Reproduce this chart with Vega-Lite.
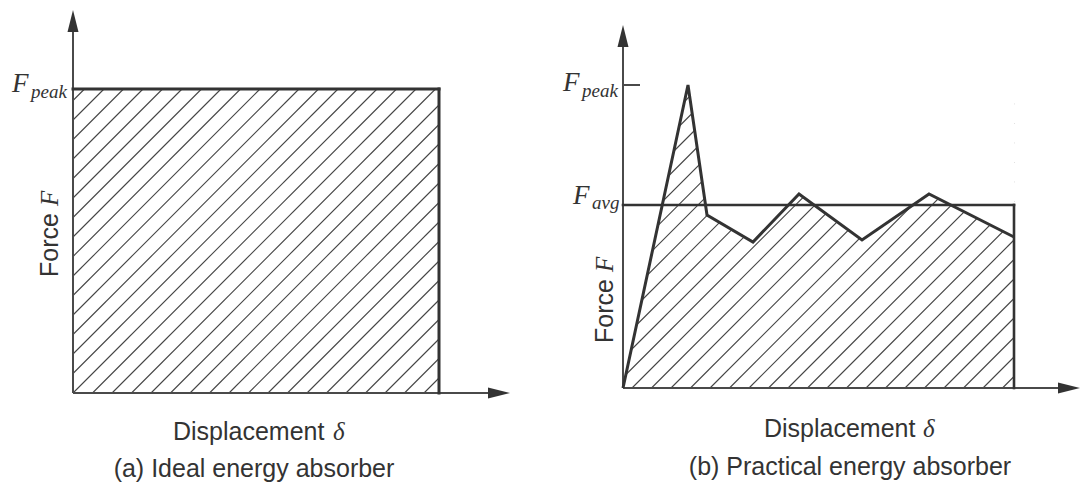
{
  "$schema": "https://vega.github.io/schema/vega-lite/v6.json",
  "background": "white",
  "padding": 0,
  "spacing": 0,
  "config": {"view": {"stroke": null}, "concat": {"spacing": 0}},
  "datasets": {
    "a_hatch": [
      {"x": 0, "y": 292.5, "x2": 11.5, "y2": 304},
      {"x": 0, "y": 273, "x2": 31, "y2": 304},
      {"x": 0, "y": 253.5, "x2": 50.5, "y2": 304},
      {"x": 0, "y": 234, "x2": 70, "y2": 304},
      {"x": 0, "y": 214.5, "x2": 89.5, "y2": 304},
      {"x": 0, "y": 195, "x2": 109, "y2": 304},
      {"x": 0, "y": 175.5, "x2": 128.5, "y2": 304},
      {"x": 0, "y": 156, "x2": 148, "y2": 304},
      {"x": 0, "y": 136.5, "x2": 167.5, "y2": 304},
      {"x": 0, "y": 117, "x2": 187, "y2": 304},
      {"x": 0, "y": 97.5, "x2": 206.5, "y2": 304},
      {"x": 0, "y": 78, "x2": 226, "y2": 304},
      {"x": 0, "y": 58.5, "x2": 245.5, "y2": 304},
      {"x": 0, "y": 39, "x2": 265, "y2": 304},
      {"x": 0, "y": 19.5, "x2": 284.5, "y2": 304},
      {"x": 0, "y": 0, "x2": 304, "y2": 304},
      {"x": 19.5, "y": 0, "x2": 323.5, "y2": 304},
      {"x": 39, "y": 0, "x2": 343, "y2": 304},
      {"x": 58.5, "y": 0, "x2": 362.5, "y2": 304},
      {"x": 78, "y": 0, "x2": 366, "y2": 288},
      {"x": 97.5, "y": 0, "x2": 366, "y2": 268.5},
      {"x": 117, "y": 0, "x2": 366, "y2": 249},
      {"x": 136.5, "y": 0, "x2": 366, "y2": 229.5},
      {"x": 156, "y": 0, "x2": 366, "y2": 210},
      {"x": 175.5, "y": 0, "x2": 366, "y2": 190.5},
      {"x": 195, "y": 0, "x2": 366, "y2": 171},
      {"x": 214.5, "y": 0, "x2": 366, "y2": 151.5},
      {"x": 234, "y": 0, "x2": 366, "y2": 132},
      {"x": 253.5, "y": 0, "x2": 366, "y2": 112.5},
      {"x": 273, "y": 0, "x2": 366, "y2": 93},
      {"x": 292.5, "y": 0, "x2": 366, "y2": 73.5},
      {"x": 312, "y": 0, "x2": 366, "y2": 54},
      {"x": 331.5, "y": 0, "x2": 366, "y2": 34.5},
      {"x": 351, "y": 0, "x2": 366, "y2": 15}
    ],
    "a_axes": [
      {"x": 0, "y": 0, "x2": 0, "y2": 372},
      {"x": 0, "y": 0, "x2": 426, "y2": 0}
    ],
    "a_box": [
      {"x": 0, "y": 304, "x2": 366, "y2": 304},
      {"x": 366, "y": 304, "x2": 366, "y2": 0}
    ],
    "a_arrows": [
      {"x": 0, "y": 372, "dir": "up"},
      {"x": 426, "y": 0, "dir": "right"}
    ],
    "b_hatch": [
      {"x": 0, "y": 283.5, "x2": 19.5, "y2": 303},
      {"x": 0, "y": 264, "x2": 39, "y2": 303},
      {"x": 0, "y": 244.5, "x2": 58.5, "y2": 303},
      {"x": 0, "y": 225, "x2": 78, "y2": 303},
      {"x": 0, "y": 205.5, "x2": 97.5, "y2": 303},
      {"x": 0, "y": 186, "x2": 117, "y2": 303},
      {"x": 0, "y": 166.5, "x2": 136.5, "y2": 303},
      {"x": 0, "y": 147, "x2": 156, "y2": 303},
      {"x": 0, "y": 127.5, "x2": 175.5, "y2": 303},
      {"x": 0, "y": 108, "x2": 195, "y2": 303},
      {"x": 0, "y": 88.5, "x2": 214.5, "y2": 303},
      {"x": 0, "y": 69, "x2": 234, "y2": 303},
      {"x": 0, "y": 49.5, "x2": 253.5, "y2": 303},
      {"x": 0, "y": 30, "x2": 273, "y2": 303},
      {"x": 0, "y": 10.5, "x2": 292.5, "y2": 303},
      {"x": 9, "y": 0, "x2": 312, "y2": 303},
      {"x": 28.5, "y": 0, "x2": 331.5, "y2": 303},
      {"x": 48, "y": 0, "x2": 351, "y2": 303},
      {"x": 67.5, "y": 0, "x2": 370.5, "y2": 303},
      {"x": 87, "y": 0, "x2": 390, "y2": 303},
      {"x": 106.5, "y": 0, "x2": 391, "y2": 284.5},
      {"x": 126, "y": 0, "x2": 391, "y2": 265},
      {"x": 145.5, "y": 0, "x2": 391, "y2": 245.5},
      {"x": 165, "y": 0, "x2": 391, "y2": 226},
      {"x": 184.5, "y": 0, "x2": 391, "y2": 206.5},
      {"x": 204, "y": 0, "x2": 391, "y2": 187},
      {"x": 223.5, "y": 0, "x2": 391, "y2": 167.5},
      {"x": 243, "y": 0, "x2": 391, "y2": 148},
      {"x": 262.5, "y": 0, "x2": 391, "y2": 128.5},
      {"x": 282, "y": 0, "x2": 391, "y2": 109},
      {"x": 301.5, "y": 0, "x2": 391, "y2": 89.5},
      {"x": 321, "y": 0, "x2": 391, "y2": 70},
      {"x": 340.5, "y": 0, "x2": 391, "y2": 50.5},
      {"x": 360, "y": 0, "x2": 391, "y2": 31},
      {"x": 379.5, "y": 0, "x2": 391, "y2": 11.5}
    ],
    "b_curve": [
      {"x": 0, "y": 0},
      {"x": 65, "y": 303},
      {"x": 84, "y": 173},
      {"x": 130, "y": 146},
      {"x": 176, "y": 194},
      {"x": 239, "y": 148},
      {"x": 306, "y": 194},
      {"x": 391, "y": 151}
    ],
    "b_axes": [
      {"x": 0, "y": 0, "x2": 0, "y2": 352},
      {"x": 0, "y": 0, "x2": 446, "y2": 0},
      {"x": 0, "y": 303, "x2": 17, "y2": 303}
    ],
    "b_box": [
      {"x": 0, "y": 183, "x2": 391, "y2": 183},
      {"x": 391, "y": 183, "x2": 391, "y2": 0}
    ],
    "b_arrows": [
      {"x": 0, "y": 352, "dir": "up"},
      {"x": 446, "y": 0, "dir": "right"}
    ]
  },
  "hconcat": [
    {
      "width": 540,
      "height": 484,
      "encoding": {
        "x": {"field": "x", "type": "quantitative", "scale": {"domain": [-73, 467], "nice": false, "zero": false}, "axis": null},
        "y": {"field": "y", "type": "quantitative", "scale": {"domain": [-91, 393], "nice": false, "zero": false}, "axis": null}
      },
      "layer": [
        {"data": {"name": "a_hatch"}, "mark": {"type": "rule", "stroke": "#444444", "strokeWidth": 1.1}, "encoding": {"x2": {"field": "x2"}, "y2": {"field": "y2"}}},
        {"data": {"name": "a_axes"}, "mark": {"type": "rule", "stroke": "#4a4a4a", "strokeWidth": 2}, "encoding": {"x2": {"field": "x2"}, "y2": {"field": "y2"}}},
        {"data": {"name": "a_box"}, "mark": {"type": "rule", "stroke": "#333333", "strokeWidth": 3, "strokeCap": "square"}, "encoding": {"x2": {"field": "x2"}, "y2": {"field": "y2"}}},
        {"data": {"name": "a_arrows"}, "mark": {"type": "point", "filled": true, "opacity": 1, "color": "#333333", "size": 484, "strokeWidth": 0},
         "encoding": {"shape": {"field": "dir", "type": "nominal", "scale": {"domain": ["up", "right"], "range": ["M0,-1L0.5,1L-0.5,1Z", "M1,0L-1,-0.5L-1,0.5Z"]}, "legend": null}}},
        {"data": {"values": [{"x": -61, "y": 301, "t": "F"}]}, "mark": {"type": "text", "font": "Liberation Serif", "fontStyle": "italic", "fontSize": 27, "align": "left", "baseline": "alphabetic", "color": "#333333"}, "encoding": {"text": {"field": "t"}}},
        {"data": {"values": [{"x": -42, "y": 295, "t": "peak"}]}, "mark": {"type": "text", "font": "Liberation Serif", "fontStyle": "italic", "fontSize": 19, "align": "left", "baseline": "alphabetic", "color": "#333333"}, "encoding": {"text": {"field": "t"}}},
        {"data": {"values": [{"x": -15, "y": 116, "t": "Force"}]}, "mark": {"type": "text", "font": "Liberation Sans", "fontSize": 25, "angle": 270, "align": "left", "baseline": "alphabetic", "color": "#333333"}, "encoding": {"text": {"field": "t"}}},
        {"data": {"values": [{"x": -15, "y": 187, "t": "F"}]}, "mark": {"type": "text", "font": "Liberation Serif", "fontStyle": "italic", "fontSize": 25, "angle": 270, "align": "left", "baseline": "alphabetic", "color": "#333333"}, "encoding": {"text": {"field": "t"}}},
        {"data": {"values": [{"x": 100, "y": -47, "t": "Displacement"}]}, "mark": {"type": "text", "font": "Liberation Sans", "fontSize": 25, "align": "left", "baseline": "alphabetic", "color": "#333333"}, "encoding": {"text": {"field": "t"}}},
        {"data": {"values": [{"x": 260, "y": -47, "t": "δ"}]}, "mark": {"type": "text", "font": "Liberation Serif", "fontStyle": "italic", "fontSize": 25, "align": "left", "baseline": "alphabetic", "color": "#333333"}, "encoding": {"text": {"field": "t"}}},
        {"data": {"values": [{"x": 181, "y": -84, "t": "(a) Ideal energy absorber"}]}, "mark": {"type": "text", "font": "Liberation Sans", "fontSize": 25, "align": "center", "baseline": "alphabetic", "color": "#333333"}, "encoding": {"text": {"field": "t"}}}
      ]
    },
    {
      "width": 541,
      "height": 484,
      "encoding": {
        "x": {"field": "x", "type": "quantitative", "scale": {"domain": [-83, 458], "nice": false, "zero": false}, "axis": null},
        "y": {"field": "y", "type": "quantitative", "scale": {"domain": [-96, 388], "nice": false, "zero": false}, "axis": null}
      },
      "layer": [
        {"data": {"name": "b_hatch"}, "mark": {"type": "rule", "stroke": "#444444", "strokeWidth": 1.1}, "encoding": {"x2": {"field": "x2"}, "y2": {"field": "y2"}}},
        {"data": {"name": "b_curve"}, "mark": {"type": "area", "fill": "white", "opacity": 1}, "encoding": {"y2": {"datum": 314}}},
        {"data": {"name": "b_axes"}, "mark": {"type": "rule", "stroke": "#4a4a4a", "strokeWidth": 2}, "encoding": {"x2": {"field": "x2"}, "y2": {"field": "y2"}}},
        {"data": {"name": "b_box"}, "mark": {"type": "rule", "stroke": "#333333", "strokeWidth": 2.6, "strokeCap": "square"}, "encoding": {"x2": {"field": "x2"}, "y2": {"field": "y2"}}},
        {"data": {"name": "b_curve"}, "mark": {"type": "line", "stroke": "#333333", "strokeWidth": 3, "strokeJoin": "miter"}, "encoding": {}},
        {"data": {"name": "b_arrows"}, "mark": {"type": "point", "filled": true, "opacity": 1, "color": "#333333", "size": 484, "strokeWidth": 0},
         "encoding": {"shape": {"field": "dir", "type": "nominal", "scale": {"domain": ["up", "right"], "range": ["M0,-1L0.5,1L-0.5,1Z", "M1,0L-1,-0.5L-1,0.5Z"]}, "legend": null}}},
        {"data": {"values": [{"x": -60, "y": 297, "t": "F"}, {"x": -50, "y": 184, "t": "F"}]}, "mark": {"type": "text", "font": "Liberation Serif", "fontStyle": "italic", "fontSize": 27, "align": "left", "baseline": "alphabetic", "color": "#333333"}, "encoding": {"text": {"field": "t"}}},
        {"data": {"values": [{"x": -41, "y": 291, "t": "peak"}, {"x": -31, "y": 179, "t": "avg"}]}, "mark": {"type": "text", "font": "Liberation Serif", "fontStyle": "italic", "fontSize": 19, "align": "left", "baseline": "alphabetic", "color": "#333333"}, "encoding": {"text": {"field": "t"}}},
        {"data": {"values": [{"x": -10, "y": 45, "t": "Force"}]}, "mark": {"type": "text", "font": "Liberation Sans", "fontSize": 25, "angle": 270, "align": "left", "baseline": "alphabetic", "color": "#333333"}, "encoding": {"text": {"field": "t"}}},
        {"data": {"values": [{"x": -10, "y": 116, "t": "F"}]}, "mark": {"type": "text", "font": "Liberation Serif", "fontStyle": "italic", "fontSize": 25, "angle": 270, "align": "left", "baseline": "alphabetic", "color": "#333333"}, "encoding": {"text": {"field": "t"}}},
        {"data": {"values": [{"x": 141, "y": -49, "t": "Displacement"}]}, "mark": {"type": "text", "font": "Liberation Sans", "fontSize": 25, "align": "left", "baseline": "alphabetic", "color": "#333333"}, "encoding": {"text": {"field": "t"}}},
        {"data": {"values": [{"x": 300, "y": -49, "t": "δ"}]}, "mark": {"type": "text", "font": "Liberation Serif", "fontStyle": "italic", "fontSize": 25, "align": "left", "baseline": "alphabetic", "color": "#333333"}, "encoding": {"text": {"field": "t"}}},
        {"data": {"values": [{"x": 227, "y": -87, "t": "(b) Practical energy absorber"}]}, "mark": {"type": "text", "font": "Liberation Sans", "fontSize": 25, "align": "center", "baseline": "alphabetic", "color": "#333333"}, "encoding": {"text": {"field": "t"}}}
      ]
    }
  ]
}
